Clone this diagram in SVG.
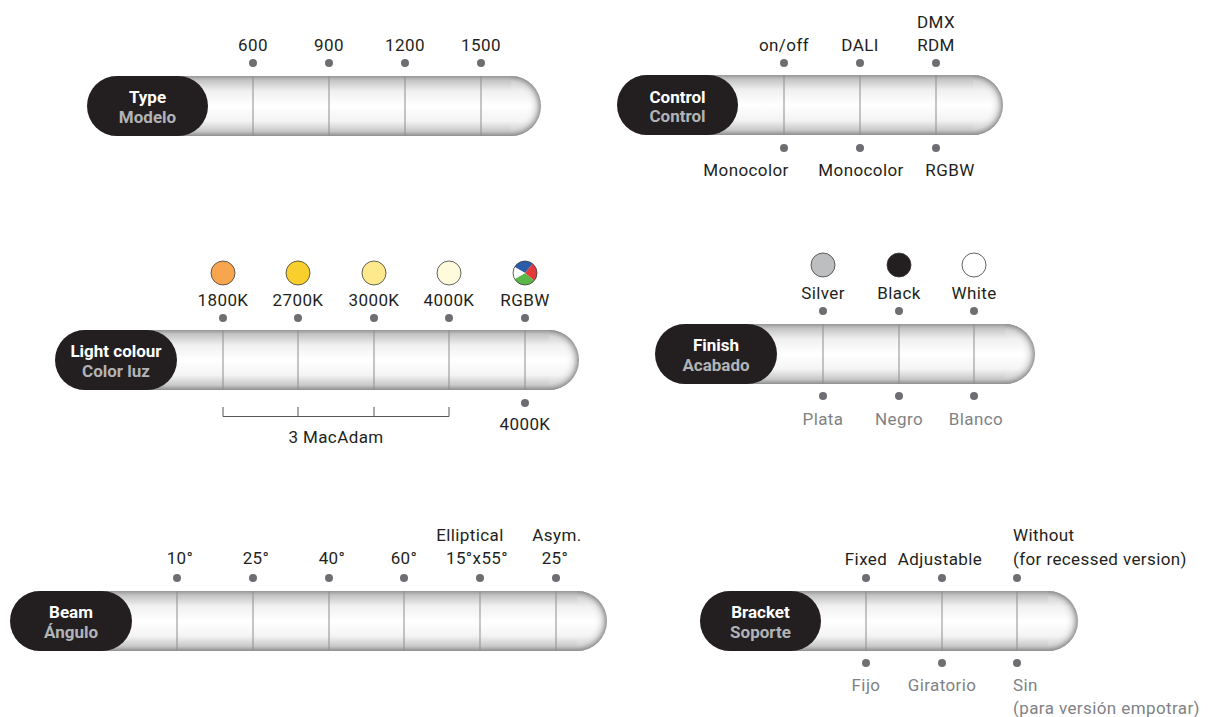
<svg xmlns="http://www.w3.org/2000/svg" xmlns:xlink="http://www.w3.org/1999/xlink" width="1210" height="717" viewBox="0 0 1210 717">
<defs>
<linearGradient id="vg" x1="0" y1="0" x2="0" y2="1">
<stop offset="0" stop-color="#979797"/>
<stop offset="0.07" stop-color="#c3c3c3"/>
<stop offset="0.25" stop-color="#f0f0f0"/>
<stop offset="0.5" stop-color="#ffffff"/>
<stop offset="0.75" stop-color="#f4f4f4"/>
<stop offset="0.92" stop-color="#c8c8c8"/>
<stop offset="1" stop-color="#8e8e8e"/>
</linearGradient>
<radialGradient id="capg" gradientUnits="userSpaceOnUse" cx="0" cy="0" r="30">
<stop offset="0" stop-color="#ffffff" stop-opacity="0"/>
<stop offset="0.55" stop-color="#ffffff" stop-opacity="0"/>
<stop offset="0.8" stop-color="#d8d8d8" stop-opacity="0.6"/>
<stop offset="1" stop-color="#8c8c8c" stop-opacity="0.95"/>
</radialGradient>
<path id="cap" d="M0,-30 A30,30 0 0 1 0,30 Z" fill="url(#capg)"/>
<style>
.bar{fill:url(#vg)}
.pill{fill:#231f20}
.div{stroke:#8d8d8d;stroke-width:1;fill:none}
.dot{fill:#6d6e71}
.t1{font-family:Roboto,"Liberation Sans",sans-serif;font-weight:700;font-size:17px;fill:#ffffff;text-anchor:middle}
.t2{font-family:Roboto,"Liberation Sans",sans-serif;font-weight:700;font-size:17px;fill:#b1b3b6;text-anchor:middle}
.lb{font-family:Roboto,"Liberation Sans",sans-serif;font-size:17px;fill:#231f20;text-anchor:middle;letter-spacing:0.4px}
.lg{font-family:Roboto,"Liberation Sans",sans-serif;font-size:17px;fill:#808285;text-anchor:middle;letter-spacing:0.4px}
.st{text-anchor:start}
.sw{stroke:#3a3a3a;stroke-width:0.8}
.br{stroke:#555;stroke-width:1;fill:none}
</style>
</defs>

<!-- Type -->
<g id="type">
<rect class="bar" x="87" y="76" width="454" height="60" rx="30"/>
<use xlink:href="#cap" x="511" y="106"/>
<g class="div"><line x1="253" y1="76" x2="253" y2="136"/><line x1="329" y1="76" x2="329" y2="136"/><line x1="405" y1="76" x2="405" y2="136"/><line x1="481" y1="76" x2="481" y2="136"/></g>
<rect class="pill" x="87" y="76" width="121" height="60" rx="30"/>
<text class="t1" x="147.5" y="103">Type</text>
<text class="t2" x="147.5" y="122.5">Modelo</text>
<g class="dot"><circle cx="253" cy="63" r="4"/><circle cx="329" cy="63" r="4"/><circle cx="405" cy="63" r="4"/><circle cx="481" cy="63" r="4"/></g>
<text class="lb" x="253" y="51">600</text>
<text class="lb" x="329" y="51">900</text>
<text class="lb" x="405" y="51">1200</text>
<text class="lb" x="481" y="51">1500</text>
</g>

<!-- Control -->
<g id="control">
<rect class="bar" x="617" y="75" width="386" height="60" rx="30"/>
<use xlink:href="#cap" x="973" y="105"/>
<g class="div"><line x1="784" y1="75" x2="784" y2="135"/><line x1="860" y1="75" x2="860" y2="135"/><line x1="936" y1="75" x2="936" y2="135"/></g>
<rect class="pill" x="617" y="75" width="121" height="60" rx="30"/>
<text class="t1" x="677.5" y="102.5">Control</text>
<text class="t2" x="677.5" y="122">Control</text>
<g class="dot"><circle cx="784" cy="63" r="4"/><circle cx="860" cy="63" r="4"/><circle cx="936" cy="63" r="4"/><circle cx="784" cy="148" r="4"/><circle cx="860" cy="148" r="4"/><circle cx="936" cy="148" r="4"/></g>
<text class="lb" x="784" y="51">on/off</text>
<text class="lb" x="860" y="51">DALI</text>
<text class="lb" x="936" y="28">DMX</text>
<text class="lb" x="936" y="51">RDM</text>
<text class="lb" x="746" y="176">Monocolor</text>
<text class="lb" x="861" y="176">Monocolor</text>
<text class="lb" x="950" y="176">RGBW</text>
</g>

<!-- Light colour -->
<g id="light-colour">
<rect class="bar" x="55" y="330" width="524" height="60" rx="30"/>
<use xlink:href="#cap" x="549" y="360"/>
<g class="div"><line x1="223" y1="330" x2="223" y2="390"/><line x1="298" y1="330" x2="298" y2="390"/><line x1="374" y1="330" x2="374" y2="390"/><line x1="449" y1="330" x2="449" y2="390"/><line x1="525" y1="330" x2="525" y2="390"/></g>
<rect class="pill" x="55" y="330" width="122" height="60" rx="30"/>
<text class="t1" x="116" y="357">Light colour</text>
<text class="t2" x="116" y="376.5">Color luz</text>
<g class="sw">
<circle cx="223" cy="273" r="12" fill="#f7a54f"/>
<circle cx="298" cy="273" r="12" fill="#f8cf2c"/>
<circle cx="374" cy="273" r="12" fill="#feea8c"/>
<circle cx="449" cy="273" r="12" fill="#fffadc"/>
</g>
<g id="rgbw">
<path d="M525,273 L514.6,267 A12,12 0 0 1 532.7,263.8 Z" fill="#2a5ca8"/>
<path d="M525,273 L532.7,263.8 A12,12 0 0 1 534.2,280.7 Z" fill="#e53a3a"/>
<path d="M525,273 L534.2,280.7 A12,12 0 0 1 514.6,279 Z" fill="#5bb848"/>
<path d="M525,273 L514.6,279 A12,12 0 0 1 514.6,267 Z" fill="#ffffff"/>
<circle cx="525" cy="273" r="12" fill="none" class="sw"/>
</g>
<text class="lb" x="223" y="306">1800K</text>
<text class="lb" x="298" y="306">2700K</text>
<text class="lb" x="374" y="306">3000K</text>
<text class="lb" x="449" y="306">4000K</text>
<text class="lb" x="525" y="306">RGBW</text>
<g class="dot"><circle cx="223" cy="318" r="4"/><circle cx="298" cy="318" r="4"/><circle cx="374" cy="318" r="4"/><circle cx="449" cy="318" r="4"/><circle cx="525" cy="318" r="4"/><circle cx="525" cy="403" r="4"/></g>
<text class="lb" x="525" y="430">4000K</text>
<path class="br" d="M223,407 V416.5 H449 V407 M298,407 V416.5 M374,407 V416.5"/>
<text class="lb" x="336" y="443">3 MacAdam</text>
</g>

<!-- Finish -->
<g id="finish">
<rect class="bar" x="655" y="324" width="380" height="60" rx="30"/>
<use xlink:href="#cap" x="1005" y="354"/>
<g class="div"><line x1="823" y1="324" x2="823" y2="384"/><line x1="899" y1="324" x2="899" y2="384"/><line x1="974" y1="324" x2="974" y2="384"/></g>
<rect class="pill" x="655" y="324" width="122" height="60" rx="30"/>
<text class="t1" x="716" y="351">Finish</text>
<text class="t2" x="716" y="370.5">Acabado</text>
<circle cx="823" cy="265" r="12" fill="#bcbec0" class="sw"/>
<circle cx="899" cy="265" r="12" fill="#231f20" class="sw"/>
<circle cx="974" cy="265" r="12" fill="#ffffff" class="sw"/>
<text class="lb" x="823" y="299">Silver</text>
<text class="lb" x="899" y="299">Black</text>
<text class="lb" x="974" y="299">White</text>
<g class="dot"><circle cx="823" cy="311" r="4"/><circle cx="899" cy="311" r="4"/><circle cx="974" cy="311" r="4"/><circle cx="823" cy="396" r="4"/><circle cx="899" cy="396" r="4"/><circle cx="974" cy="396" r="4"/></g>
<text class="lg" x="823" y="425">Plata</text>
<text class="lg" x="899" y="425">Negro</text>
<text class="lg" x="976" y="425">Blanco</text>
</g>

<!-- Beam -->
<g id="beam">
<rect class="bar" x="10" y="591" width="597" height="60" rx="30"/>
<use xlink:href="#cap" x="577" y="621"/>
<g class="div"><line x1="177" y1="591" x2="177" y2="651"/><line x1="253" y1="591" x2="253" y2="651"/><line x1="329" y1="591" x2="329" y2="651"/><line x1="404" y1="591" x2="404" y2="651"/><line x1="480" y1="591" x2="480" y2="651"/><line x1="556" y1="591" x2="556" y2="651"/></g>
<rect class="pill" x="10" y="591" width="122" height="60" rx="30"/>
<text class="t1" x="71" y="618">Beam</text>
<text class="t2" x="71" y="637.5">Ángulo</text>
<g class="dot"><circle cx="177" cy="578" r="4"/><circle cx="253" cy="578" r="4"/><circle cx="329" cy="578" r="4"/><circle cx="404" cy="578" r="4"/><circle cx="480" cy="578" r="4"/><circle cx="556" cy="578" r="4"/></g>
<text class="lb" x="180" y="564">10°</text>
<text class="lb" x="256" y="564">25°</text>
<text class="lb" x="332" y="564">40°</text>
<text class="lb" x="404" y="564">60°</text>
<text class="lb" x="470" y="541">Elliptical</text>
<text class="lb" x="477" y="564">15°x55°</text>
<text class="lb" x="557" y="541">Asym.</text>
<text class="lb" x="555" y="564">25°</text>
</g>

<!-- Bracket -->
<g id="bracket">
<rect class="bar" x="700" y="591" width="378" height="60" rx="30"/>
<use xlink:href="#cap" x="1048" y="621"/>
<g class="div"><line x1="866" y1="591" x2="866" y2="651"/><line x1="942" y1="591" x2="942" y2="651"/><line x1="1017" y1="591" x2="1017" y2="651"/></g>
<rect class="pill" x="700" y="591" width="121" height="60" rx="30"/>
<text class="t1" x="760.5" y="618">Bracket</text>
<text class="t2" x="760.5" y="637.5">Soporte</text>
<g class="dot"><circle cx="866" cy="578" r="4"/><circle cx="942" cy="578" r="4"/><circle cx="1017" cy="578" r="4"/><circle cx="866" cy="663" r="4"/><circle cx="942" cy="663" r="4"/><circle cx="1017" cy="663" r="4"/></g>
<text class="lb" x="866" y="565">Fixed</text>
<text class="lb" x="940" y="565">Adjustable</text>
<text class="lb st" x="1013" y="541">Without</text>
<text class="lb st" x="1013" y="565">(for recessed version)</text>
<text class="lg" x="866" y="691">Fijo</text>
<text class="lg" x="942" y="691">Giratorio</text>
<text class="lg st" x="1013" y="691">Sin</text>
<text class="lg st" x="1013" y="714">(para versión empotrar)</text>
</g>
</svg>
